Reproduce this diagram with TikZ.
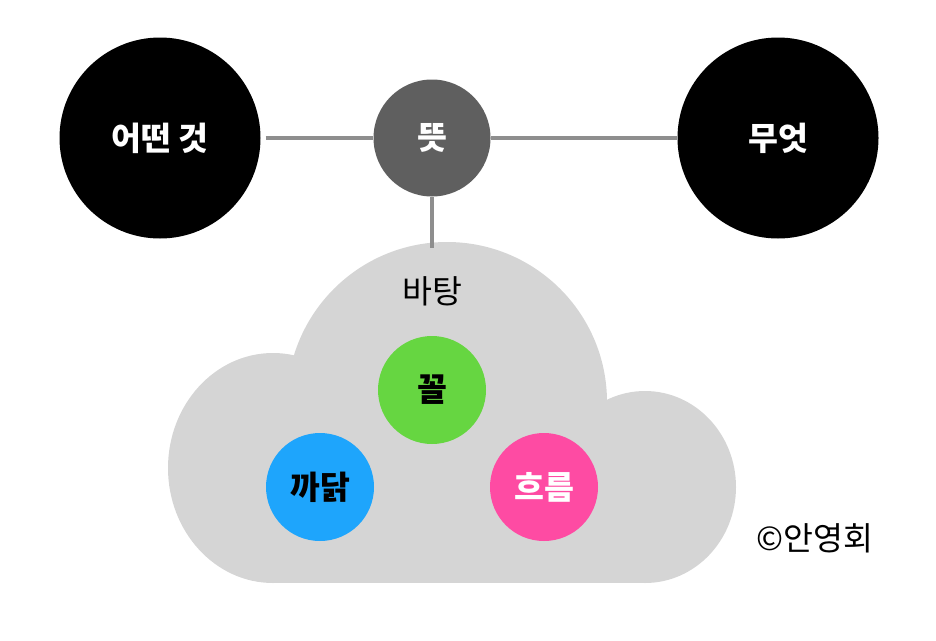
\documentclass[tikz,border=0pt]{standalone}
\usepackage{fontspec}
\setmainfont{Noto Sans CJK KR}
\definecolor{cloudgray}{HTML}{D5D5D5}
\definecolor{linegray}{HTML}{8E8E8E}
\definecolor{meangray}{HTML}{5F5F5F}
\definecolor{kkolgreen}{HTML}{66D641}
\definecolor{kkadakblue}{HTML}{1EA5FC}
\definecolor{heureumpink}{HTML}{FE4BA3}
\begin{document}
\begin{tikzpicture}[x=1pt,y=-1pt,
  dot/.style={circle, inner sep=0pt, font=\fontsize{32.5}{38}\selectfont\bfseries},
  bigdot/.style={dot, fill=black, text=white, minimum size=201pt},
  middot/.style={dot, fill=meangray, text=white, minimum size=117pt},
  smalldot/.style={dot, minimum size=108pt},
  link/.style={draw=linegray, line width=3.8pt},
  plain/.style={inner sep=0pt, font=\fontsize{32.5}{38}\selectfont}]
\useasboundingbox (0,0) rectangle (936,640);
% cloud
\begin{scope}[fill=cloudgray]
  \fill (273,468) ellipse [x radius=105, y radius=115];
  \fill (645,487) ellipse [x radius=91, y radius=96];
  \fill (447,402) circle [radius=160];
  \fill (273,400) rectangle (645,583);
\end{scope}
% nodes
\node[bigdot] (thing) at (160,138) {어떤 것};
\node[bigdot] (what) at (778,138) {무엇};
\node[middot] (mean) at (432,138) {뜻};
\node[plain] (base) at (432,291) {바탕};
\coordinate (cloudtop) at (432,248);
\node[smalldot, fill=kkolgreen, text=black] (form) at (432,390) {꼴};
\node[smalldot, fill=kkadakblue, text=black] (reason) at (320,487) {까닭};
\node[smalldot, fill=heureumpink, text=white] (flow) at (544,487) {흐름};
\node[plain] (copy) at (815,538) {©안영회};
% connectors
\draw[link, shorten <=5pt] (thing) -- (mean);
\draw[link] (mean) -- (what);
\draw[link] (mean) -- (cloudtop);
\end{tikzpicture}
\end{document}
